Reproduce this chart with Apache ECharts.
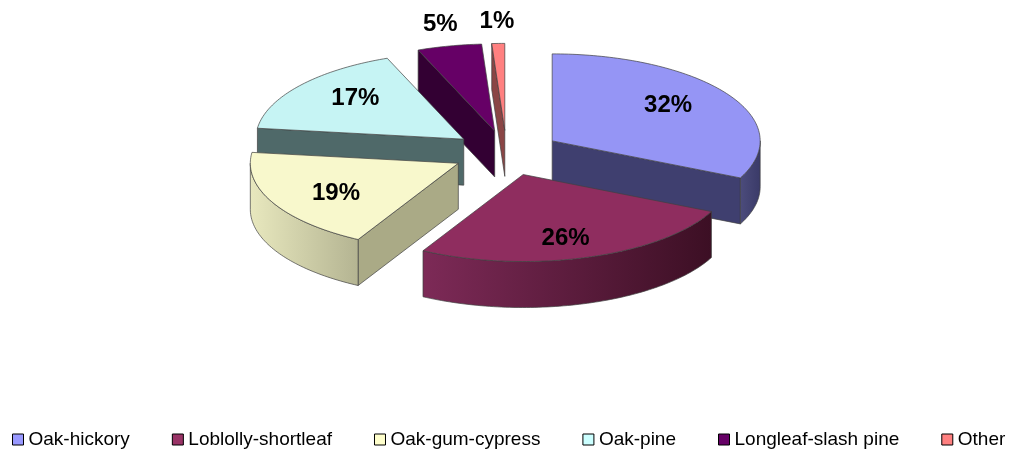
<!DOCTYPE html>
<html><head><meta charset="utf-8">
<script src="https://cdn.jsdelivr.net/npm/echarts@6/dist/echarts.min.js"></script>
<style>html,body{margin:0;padding:0;background:#fff}#c{width:1013px;height:452px}</style>
</head><body><div id="c"></div>
<script>
const categories = ['Oak-hickory', 'Loblolly-shortleaf', 'Oak-gum-cypress', 'Oak-pine', 'Longleaf-slash pine', 'Other'];
const values = [32, 26, 19, 17, 5, 1];

const topColors = ['#9595F5', '#8F2D5F', '#F8F8CC', '#C6F4F4', '#660066', '#FF8080'];
const faceColors = ['#3F3F6F', '#5A1A3A', '#AAAA86', '#4F6969', '#330033', '#8A4545'];
const outerLight = ['#4C4C7C', '#7D2A57', '#E8E8BE', '#5A7676', '#440044', '#A05050'];
const outerDark = ['#3A3A68', '#3C0F24', '#B4B492', '#405858', '#2A002A', '#7A3A3A'];
const legendColors = ['#9999FF', '#993366', '#FFFFCC', '#CCFFFF', '#660066', '#FF8080'];

const total = values.reduce((s, v) => s + v, 0);
const TAU = Math.PI * 2;
const L = { cy: 153, a: 208, b: 87, d: 46, ex: 0.26 };

function sliceAngles(i) {
  let s = 0;
  for (let k = 0; k < i; k++) s += values[k];
  return [s / total * TAU, (s + values[i]) / total * TAU];
}
function apexY(i) {
  const [s, e] = sliceAngles(i); const m = (s + e) / 2;
  return L.cy - L.ex * L.b * Math.cos(m);
}
const order = categories.map((c, i) => i).sort((p, q) => apexY(p) - apexY(q));

function makeRender(i) {
  return function (params, api) {
    const W = api.getWidth();
    const cx = W / 2, a = L.a, b = L.b, d = L.d;
    const [s, e] = sliceAngles(i);
    const m = (s + e) / 2;
    const ax = cx + L.ex * a * Math.sin(m), ay = L.cy - L.ex * b * Math.cos(m);
    const P = (t, dy) => [ax + a * Math.sin(t), ay - b * Math.cos(t) + (dy || 0)];
    const arc = (t0, t1, dy) => {
      const n = Math.max(2, Math.ceil((t1 - t0) / 0.02));
      const pts = [];
      for (let k = 0; k <= n; k++) pts.push(P(t0 + (t1 - t0) * k / n, dy));
      return pts;
    };
    const st = { stroke: '#404040', lineWidth: 0.7 };
    const children = [];
    if (Math.sin(s) < -1e-6) {
      children.push({ type: 'polygon', shape: { points: [[ax, ay], P(s), P(s, d), [ax, ay + d]] },
        style: Object.assign({ fill: faceColors[i] }, st) });
    }
    if (Math.sin(e) > 1e-6) {
      children.push({ type: 'polygon', shape: { points: [[ax, ay], P(e), P(e, d), [ax, ay + d]] },
        style: Object.assign({ fill: faceColors[i] }, st) });
    }
    const o0 = Math.max(s, Math.PI / 2), o1 = Math.min(e, 1.5 * Math.PI);
    if (o1 > o0) {
      const pts = arc(o0, o1, 0).concat(arc(o0, o1, d).reverse());
      children.push({ type: 'polygon', shape: { points: pts },
        style: Object.assign({ fill: new echarts.graphic.LinearGradient(0, 0, 1, 0, [
          { offset: 0, color: outerLight[i] }, { offset: 1, color: outerDark[i] }]) }, st) });
    }
    children.push({ type: 'polygon', shape: { points: [[ax, ay]].concat(arc(s, e, 0)) },
      style: Object.assign({ fill: topColors[i] }, st) });
    const frac = values[i] / total;
    const rx = frac < 0.1 ? 1.2 : 0.66, ry = frac < 0.1 ? 1.25 : 0.77;
    const lx = ax + rx * a * Math.sin(m), ly = ay - ry * b * Math.cos(m);
    children.push({ type: 'text', style: {
      text: Math.round(frac * 100) + '%', x: lx, y: ly,
      align: 'center', verticalAlign: 'middle', textAlign: 'center', textVerticalAlign: 'middle',
      fill: '#000', font: 'bold 24px "Liberation Sans", Arial, sans-serif' } });
    return { type: 'group', children };
  };
}

const series = categories.map((name, i) => ({
  type: 'custom',
  name: name,
  coordinateSystem: 'none',
  z: 2 + order.indexOf(i),
  itemStyle: { color: legendColors[i] },
  data: [[i]],
  renderItem: makeRender(i)
}));

const chart = echarts.init(document.getElementById('c'), null, { renderer: 'canvas' });
chart.setOption({
  animation: false,
  color: legendColors,
  legend: {
    data: categories, left: 12, top: 430, padding: 0, itemWidth: 11, itemHeight: 11, itemGap: 42, icon: 'rect',
    itemStyle: { borderColor: '#000', borderWidth: 1 },
    textStyle: { fontSize: 19, color: '#000', fontFamily: '"Liberation Sans", Arial, sans-serif' }
  },
  series: series
});
</script></body></html>
